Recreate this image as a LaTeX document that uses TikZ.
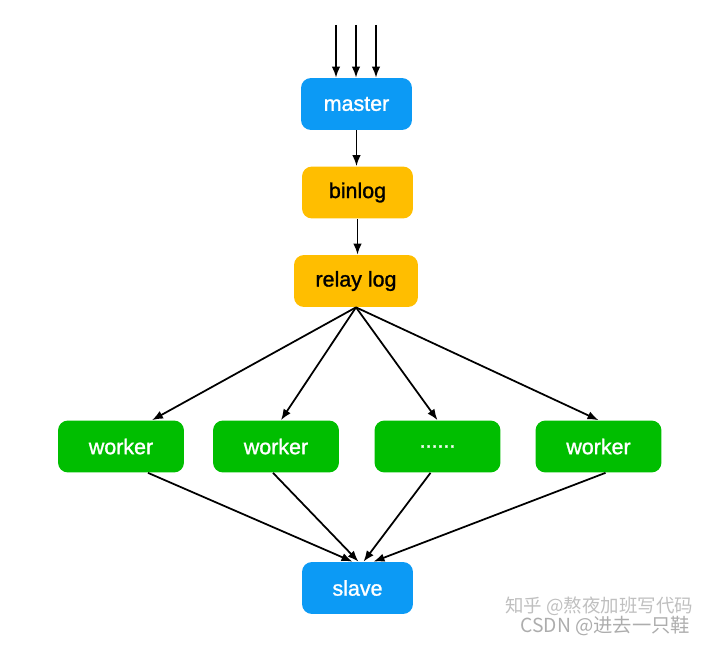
\documentclass[tikz,border=0pt]{standalone}
\usepackage{fontspec}
\setmainfont{Liberation Sans}
\newfontfamily\labelfont[FakeBold=1.2]{Liberation Sans}
\newfontfamily\cjk{Noto Sans CJK SC}
\usetikzlibrary{positioning}
\usetikzlibrary{arrows.meta}
\usetikzlibrary{calc}
\definecolor{mysqlblue}{RGB}{12,154,245}
\definecolor{logyellow}{RGB}{255,190,0}
\definecolor{workergreen}{RGB}{0,190,0}

\begin{document}
\begin{tikzpicture}[x=0.02cm, y=-0.02cm,
	box/.style={rounded corners=0.2cm, inner sep=0pt, minimum height=1.04cm, font=\labelfont\fontsize{12.2}{14}\selectfont},
	dbbox/.style={box, fill=mysqlblue, text=white, minimum width=2.22cm},
	logbox/.style={box, fill=logyellow, text=black, minimum width=2.22cm},
	workbox/.style={box, fill=workergreen, text=white, minimum width=2.52cm},
	flow/.style={-{Latex[length=2.2mm,width=1.7mm]}, line width=1pt},
	watermark/.style={text=black!25, font=\cjk\fontsize{10.5}{12}\selectfont, anchor=west, inner sep=0pt}]
	%% canvas
	\useasboundingbox (0,0) rectangle (720,645);

	\def\wy{446.5} % row of the workers

	% main chain
	\node[dbbox] (master) at (356.5,104) {master};
	\node[logbox] (binlog) at (357.5,192.5) {binlog};
	\node[logbox, minimum width=2.48cm] (relay) at (356,281) {relay log};

	\node[workbox] (w1) at (121,\wy) {worker};
	\node[workbox] (w2) at (276,\wy) {worker};
	\node[workbox] (w3) at (437.5,\wy) {......};
	\node[workbox] (w4) at (598.5,\wy) {worker};

	\node[dbbox] (slave) at (357.5,588) {slave};

	% incoming writes
	\coordinate (in1) at (336,25);
	\coordinate (in2) at (356,25);
	\coordinate (in3) at (376,25);
	\foreach \i in {1,2,3}
		\draw[flow] (in\i) -- (in\i |- master.north);

	\draw[flow] (master) -- (master |- binlog.north);
	\draw[flow] (binlog) -- (binlog |- relay.north);

	% fan out
	\draw[flow] (relay.south) -- ([xshift=0.62cm]w1.north);
	\draw[flow] (relay.south) -- ([xshift=0.1cm]w2.north);
	\draw[flow] (relay.south) -- (w3.north);
	\draw[flow] (relay.south) -- (w4.north);

	% fan in
	\draw[flow] ([xshift=0.54cm]w1.south) -- ([xshift=-0.1cm]slave.north);
	\draw[flow] ([xshift=-0.06cm]w2.south) -- ([xshift=0.02cm]slave.north);
	\draw[flow] ([xshift=-0.14cm]w3.south) -- ([xshift=0.12cm]slave.north);
	\draw[flow] ([xshift=0.14cm]w4.south) -- ([xshift=0.32cm]slave.north);

	% watermark
	\node[watermark] (zhihu) at (505,606) {知乎 @熬夜加班写代码};
	\node[watermark, text=black!32, font=\cjk\fontsize{11}{13}\selectfont] (csdn) at (520,626) {CSDN @进去一只鞋};
\end{tikzpicture}
\end{document}
